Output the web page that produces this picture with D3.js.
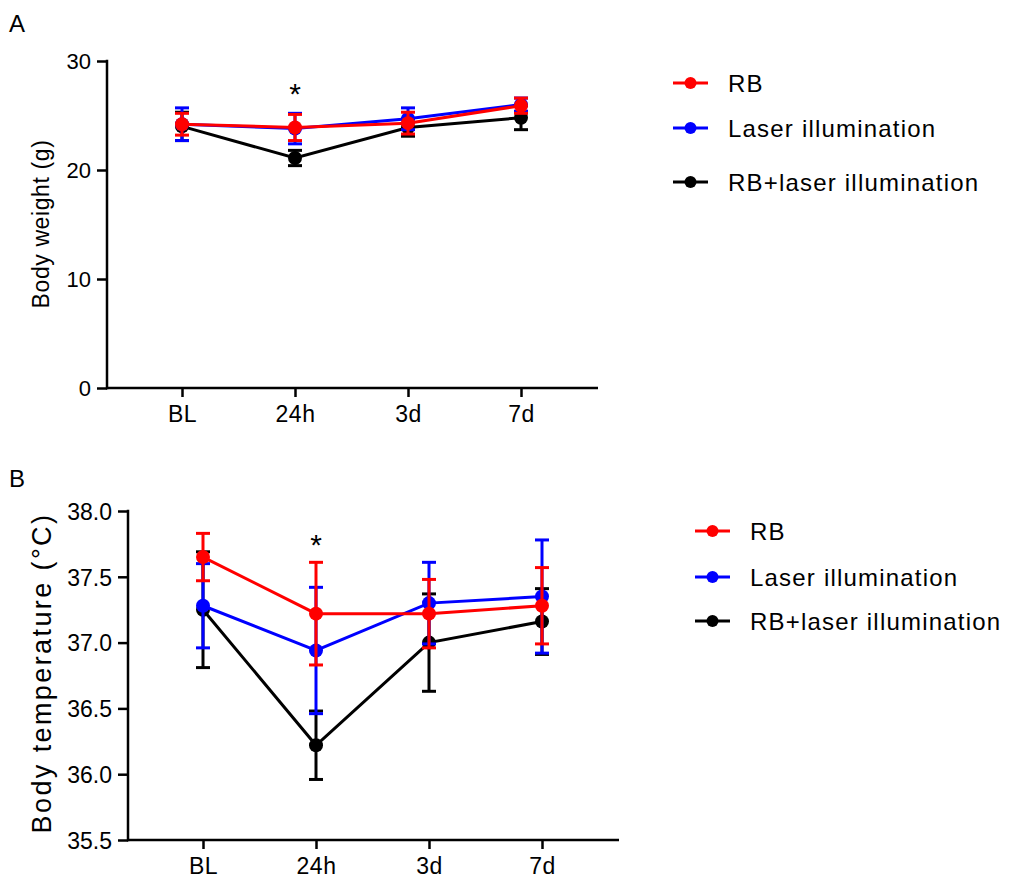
<!DOCTYPE html>
<html>
<meta charset="utf-8">
<style>
body { margin: 0; background: #fff; }
svg text { font-family: "Liberation Sans", Arial, sans-serif; fill: #000; }
</style>
<body>
<script src="https://d3js.org/d3.v7.min.js"></script>
<script>
// time points on the x axis
var timepoints = ["BL", "24h", "3d", "7d"];
var seriesNames = ["RB", "Laser illumination", "RB+laser illumination"];
var seriesColors = ["#ff0000", "#0000ff", "#000000"];

// panel A: body weight (g), mean and error
var weightRB = [24.2, 23.9, 24.3, 25.9];
var weightRBErr = [1.0, 1.2, 1.0, 0.7];
var weightLaser = [24.2, 23.8, 24.7, 26.0];
var weightLaserErr = [1.5, 1.4, 1.0, 0.6];
var weightCombo = [24.0, 21.1, 23.9, 24.8];
var weightComboErr = [1.3, 0.7, 0.8, 1.1];
var weightTicks = [0, 10, 20, 30];

// panel B: body temperature (°C), mean and error
var tempRB = [37.65, 37.22, 37.22, 37.28];
var tempRBErr = [0.18, 0.39, 0.26, 0.29];
var tempLaser = [37.28, 36.94, 37.30, 37.35];
var tempLaserErr = [0.32, 0.48, 0.31, 0.43];
var tempCombo = [37.25, 36.22, 37.00, 37.16];
var tempComboErr = [0.44, 0.26, 0.37, 0.25];
var tempTicks = [35.5, 36.0, 36.5, 37.0, 37.5, 38.0];

// significance mark
var starAt = "24h";

var svg = d3.select("body").append("svg")
    .attr("width", 1013)
    .attr("height", 882);

function drawPanel(p) {
  var g = svg.append("g");

  var x = d3.scalePoint().domain(timepoints).range([p.x0 + 75, p.x0 + 75 + 339]);
  var y = d3.scaleLinear().domain(p.domain).range([p.yBottom, p.yTop]);

  // y axis
  var yAxis = g.append("g")
      .attr("transform", "translate(" + p.x0 + ",0)")
      .call(d3.axisLeft(y).tickValues(p.ticks).tickFormat(p.fmt).tickSize(10).tickPadding(6));
  yAxis.select(".domain").remove();
  yAxis.selectAll("line").attr("stroke-width", 2.5);
  yAxis.selectAll("text").style("font-size", p.tickFont + "px").attr("dy", "0.36em");
  g.append("line")
      .attr("x1", p.x0).attr("x2", p.x0)
      .attr("y1", p.yTop - 1.2).attr("y2", p.yBottom + 1.2)
      .attr("stroke", "#000").attr("stroke-width", 2.5);

  // x axis
  var xAxis = g.append("g")
      .attr("transform", "translate(0," + p.yBottom + ")")
      .call(d3.axisBottom(x).tickSize(9).tickPadding(9));
  xAxis.select(".domain").remove();
  xAxis.selectAll("line").attr("stroke-width", 2.5);
  xAxis.selectAll("text").style("font-size", "23px").style("letter-spacing", "0.5px");
  g.append("line")
      .attr("x1", p.x0 - 1).attr("x2", p.x0 + 491)
      .attr("y1", p.yBottom).attr("y2", p.yBottom)
      .attr("stroke", "#000").attr("stroke-width", 2.5);

  // y title
  g.append("text")
      .attr("transform", "translate(" + p.titleX + "," + p.titleY + ") rotate(-90)")
      .attr("text-anchor", "middle")
      .style("font-size", p.titleFont + "px")
      .style("letter-spacing", p.titleSpacing + "px")
      .text(p.title);

  // panel letter
  g.append("text")
      .attr("x", 9).attr("y", p.letterY)
      .style("font-size", "24px")
      .text(p.letter);

  // star
  g.append("text")
      .attr("x", x(starAt)).attr("y", p.starY)
      .attr("text-anchor", "middle")
      .style("font-size", "30px")
      .text("*");

  // series, drawn black first, red last
  var line = d3.line().x(function(d) { return x(d.t); }).y(function(d) { return y(d.v); });
  for (var s = p.series.length - 1; s >= 0; s--) {
    var ser = p.series[s];
    var pts = timepoints.map(function(t, i) { return { t: t, v: ser.mean[i], e: ser.err[i] }; });
    var sg = g.append("g");
    sg.append("path")
        .datum(pts)
        .attr("d", line)
        .attr("fill", "none")
        .attr("stroke", seriesColors[s])
        .attr("stroke-width", 3);
    var eb = sg.selectAll(".eb").data(pts).enter().append("g");
    eb.append("line")
        .attr("x1", function(d) { return x(d.t); }).attr("x2", function(d) { return x(d.t); })
        .attr("y1", function(d) { return y(d.v + d.e); }).attr("y2", function(d) { return y(d.v - d.e); })
        .attr("stroke", seriesColors[s]).attr("stroke-width", 3);
    [1, -1].forEach(function(sign) {
      eb.append("line")
          .attr("x1", function(d) { return x(d.t) - 7; }).attr("x2", function(d) { return x(d.t) + 7; })
          .attr("y1", function(d) { return y(d.v + sign * d.e); }).attr("y2", function(d) { return y(d.v + sign * d.e); })
          .attr("stroke", seriesColors[s]).attr("stroke-width", 3);
    });
    sg.selectAll("circle").data(pts).enter().append("circle")
        .attr("cx", function(d) { return x(d.t); })
        .attr("cy", function(d) { return y(d.v); })
        .attr("r", 7)
        .attr("fill", seriesColors[s]);
  }

  // legend
  var lg = g.append("g").attr("transform", "translate(" + p.legendX + ",0)");
  seriesNames.forEach(function(name, i) {
    var ly = p.legendY[i];
    lg.append("line")
        .attr("x1", 0).attr("x2", 35).attr("y1", ly).attr("y2", ly)
        .attr("stroke", seriesColors[i]).attr("stroke-width", 3);
    lg.append("circle").attr("cx", 17.5).attr("cy", ly).attr("r", 6).attr("fill", seriesColors[i]);
    lg.append("text")
        .attr("x", 55).attr("y", ly).attr("dy", "0.36em")
        .style("font-size", p.legendFont + "px")
        .style("letter-spacing", p.legendSpacing + "px")
        .text(name);
  });
}

drawPanel({
  letter: "A", letterY: 32,
  x0: 107, yTop: 61, yBottom: 388, domain: [0, 30],
  ticks: weightTicks, fmt: d3.format("d"), tickFont: 22,
  title: "Body weight (g)", titleX: 49, titleY: 224, titleFont: 23, titleSpacing: 0.6,
  starY: 104,
  series: [
    { mean: weightRB, err: weightRBErr },
    { mean: weightLaser, err: weightLaserErr },
    { mean: weightCombo, err: weightComboErr }
  ],
  legendX: 673, legendY: [83, 128, 182], legendFont: 24, legendSpacing: 1.2
});

drawPanel({
  letter: "B", letterY: 487,
  x0: 128, yTop: 511, yBottom: 840, domain: [35.5, 38],
  ticks: tempTicks, fmt: d3.format(".1f"), tickFont: 23,
  title: "Body temperature (°C)", titleX: 51, titleY: 673, titleFont: 27, titleSpacing: 2.4,
  starY: 555,
  series: [
    { mean: tempRB, err: tempRBErr },
    { mean: tempLaser, err: tempLaserErr },
    { mean: tempCombo, err: tempComboErr }
  ],
  legendX: 695, legendY: [531, 577, 621], legendFont: 24, legendSpacing: 1.2
});
</script>
</body>
</html>
